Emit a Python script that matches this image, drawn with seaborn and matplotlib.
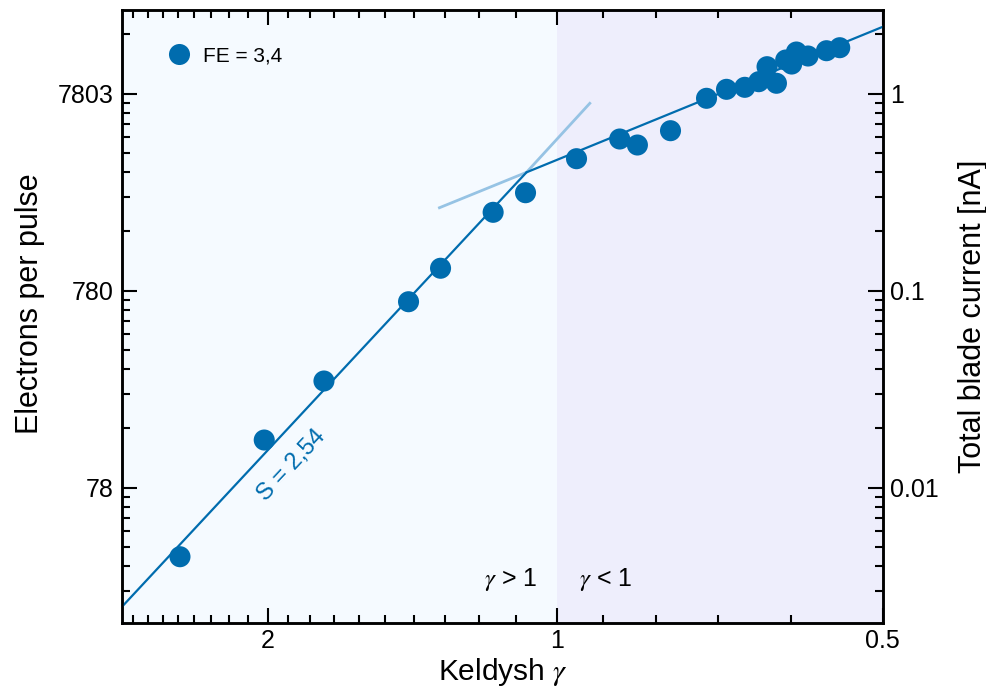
import numpy as np
import matplotlib
matplotlib.use("Agg")
import matplotlib.pyplot as plt
import matplotlib.ticker as mticker
import pandas as pd
import seaborn as sns

# Keldysh parameter and measured total blade current, FE = 3,4
gamma = [2.489, 2.017, 1.741, 1.418, 1.3135, 1.160, 1.0756, 0.9566, 0.8677, 0.8341,
         0.7754, 0.7171, 0.6871, 0.6610, 0.6419, 0.6309, 0.6187, 0.6070, 0.5996,
         0.5938, 0.5799, 0.5587, 0.5441]
current_nA = [0.004453, 0.01742, 0.03472, 0.08770, 0.1297, 0.2494, 0.3136, 0.4667,
              0.5875, 0.5477, 0.6474, 0.9454, 1.050, 1.075, 1.148, 1.368, 1.127,
              1.479, 1.411, 1.624, 1.550, 1.649, 1.708]

# fitted power laws: steep (gamma > 1) and shallow (gamma < 1) branches
steep_fit_gamma = [2.881, 1.0731]
steep_fit_nA = [0.002482, 0.3981]
steep_ext_gamma = [1.0731, 0.9262]
steep_ext_nA = [0.3981, 0.9022]
shallow_ext_gamma = [1.321, 1.0731]
shallow_ext_nA = [0.2615, 0.3981]
shallow_fit_gamma = [1.0731, 0.4999]
shallow_fit_nA = [0.3981, 2.183]

# electrons per pulse corresponding to 1 nA of blade current
electrons_per_nA = 7803.0

x_major = [2.0, 1.0, 0.5]
x_major_labels = ["2", "1", "0.5"]
x_minor = [0.6, 0.7, 0.8, 0.9, 1.1, 1.2, 1.3, 1.4, 1.5, 1.6, 1.7, 1.8, 1.9,
           2.1, 2.2, 2.3, 2.4, 2.5, 2.6, 2.7, 2.8]
current_major = [0.01, 0.1, 1.0]
current_major_labels = ["0.01", "0.1", "1"]

gamma_lim = (2.881, 0.4999)
current_lim = (0.002064, 2.654)
gamma_offset = 0.137

blue = "#006CAE"
light_blue = "#96C3E4"
bg_multiphoton = "#F5FAFF"
bg_tunnel = "#EEEEFC"

sns.set_theme(style="ticks")
plt.rcParams["font.family"] = ["Liberation Sans", "DejaVu Sans"]
plt.rcParams.update({
    "axes.linewidth": 1.8,
    "mathtext.fontset": "stix",
    "text.color": "black",
    "axes.labelcolor": "black",
    "axes.edgecolor": "black",
    "xtick.color": "black",
    "ytick.color": "black",
})

df = pd.DataFrame({"gamma": gamma, "current": current_nA})
df["electrons"] = df["current"] * electrons_per_nA
df["label"] = "FE = 3,4"

fig = plt.figure(figsize=(9.87, 6.89), dpi=100)
ax = fig.add_axes([0.1236, 0.0965, 0.7710, 0.8890])
ax.set_facecolor("white")


def fwd(g):
    g = np.asarray(g, dtype=float)
    with np.errstate(invalid="ignore", divide="ignore"):
        return np.log10(np.clip(g - gamma_offset, 1e-6, None))


def inv(v):
    return 10.0 ** np.asarray(v, dtype=float) + gamma_offset


ax.set_xscale("function", functions=(fwd, inv))
ax.set_yscale("log")
ax.set_xlim(*gamma_lim)
ax.set_ylim(current_lim[0] * electrons_per_nA, current_lim[1] * electrons_per_nA)

# regime shading
ax.axvspan(gamma_lim[0], 1.0, color=bg_multiphoton, lw=0, zorder=0)
ax.axvspan(1.0, gamma_lim[1], color=bg_tunnel, lw=0, zorder=0)

# fit lines
e = electrons_per_nA
ax.plot(steep_ext_gamma, np.array(steep_ext_nA) * e, color=light_blue, lw=2.0,
        solid_capstyle="butt", zorder=2)
ax.plot(shallow_ext_gamma, np.array(shallow_ext_nA) * e, color=light_blue, lw=2.0,
        solid_capstyle="butt", zorder=2)
ax.plot(steep_fit_gamma, np.array(steep_fit_nA) * e, color=blue, lw=1.6, zorder=3)
ax.plot(shallow_fit_gamma, np.array(shallow_fit_nA) * e, color=blue, lw=1.6, zorder=3)

sns.scatterplot(data=df, x="gamma", y="electrons", hue="label", palette=[blue],
                s=230, linewidth=0, ax=ax, zorder=4)

ax.set_xlim(*gamma_lim)
ax.set_ylim(current_lim[0] * electrons_per_nA, current_lim[1] * electrons_per_nA)

# x axis ticks
ax.xaxis.set_major_locator(mticker.FixedLocator(x_major))
ax.xaxis.set_major_formatter(mticker.FixedFormatter(x_major_labels))
ax.xaxis.set_minor_locator(mticker.FixedLocator(x_minor))
ax.xaxis.set_minor_formatter(mticker.NullFormatter())

# left axis: electrons per pulse
e_major = [v * electrons_per_nA for v in current_major]
e_minor = (electrons_per_nA * np.outer(10.0 ** np.arange(-3, 1), np.arange(2, 10))).ravel()
ax.yaxis.set_major_locator(mticker.FixedLocator(e_major))
ax.yaxis.set_major_formatter(mticker.FuncFormatter(lambda v, p: f"{v:.0f}"))
ax.yaxis.set_minor_locator(mticker.FixedLocator(e_minor))
ax.yaxis.set_minor_formatter(mticker.NullFormatter())

ax.tick_params(axis="both", which="major", direction="in", length=11, width=1.5,
               labelsize=18, colors="black")
ax.tick_params(axis="both", which="minor", direction="in", length=5.5, width=1.5)
ax.tick_params(axis="x", which="both", top=True, bottom=True, pad=5)
ax.tick_params(axis="y", which="both", left=True, right=False, pad=6)

# right axis: blade current
ax2 = ax.twinx()
ax2.set_yscale("log")
ax2.set_ylim(*current_lim)
ax2.yaxis.set_major_locator(mticker.FixedLocator(current_major))
ax2.yaxis.set_major_formatter(mticker.FixedFormatter(current_major_labels))
ax2.yaxis.set_minor_locator(mticker.LogLocator(base=10, subs=np.arange(2, 10)))
ax2.yaxis.set_minor_formatter(mticker.NullFormatter())
ax2.tick_params(axis="y", which="major", direction="in", length=11, width=1.5,
                labelsize=18, pad=5, colors="black")
ax2.tick_params(axis="y", which="minor", direction="in", length=5.5, width=1.5)
for sp in ax2.spines.values():
    sp.set_linewidth(1.8)
    sp.set_edgecolor("black")

ax.set_xlabel(r"Keldysh $\gamma$", fontsize=21.5, va="baseline")
ax.set_ylabel("Electrons per pulse", fontsize=22)
ax2.set_ylabel("Total blade current [nA]", fontsize=22)
ax.xaxis.set_label_coords(0.5, -0.0935)
ax.yaxis.set_label_coords(-0.101, 0.52)
ax2.yaxis.set_label_coords(1.0986, 0.5)

# annotations
ax.text(0.5453, 0.0596, r"$\gamma$ > 1", transform=ax.transAxes, ha="right",
        va="baseline", fontsize=18)
ax.text(0.6005, 0.0596, r"$\gamma$ < 1", transform=ax.transAxes, ha="left",
        va="baseline", fontsize=18)
ax.text(0.2234, 0.2571, "S = 2,54", transform=ax.transAxes, ha="center", va="center",
        rotation=47, rotation_mode="anchor", fontsize=17, color=blue)

leg = ax.legend(loc="center left", bbox_to_anchor=(0.0612, 0.9254), frameon=False,
                fontsize=15, handlelength=1.0, handletextpad=0.65, borderpad=0,
                borderaxespad=0, markerscale=1.0)

fig.savefig("out.png", dpi=100)
